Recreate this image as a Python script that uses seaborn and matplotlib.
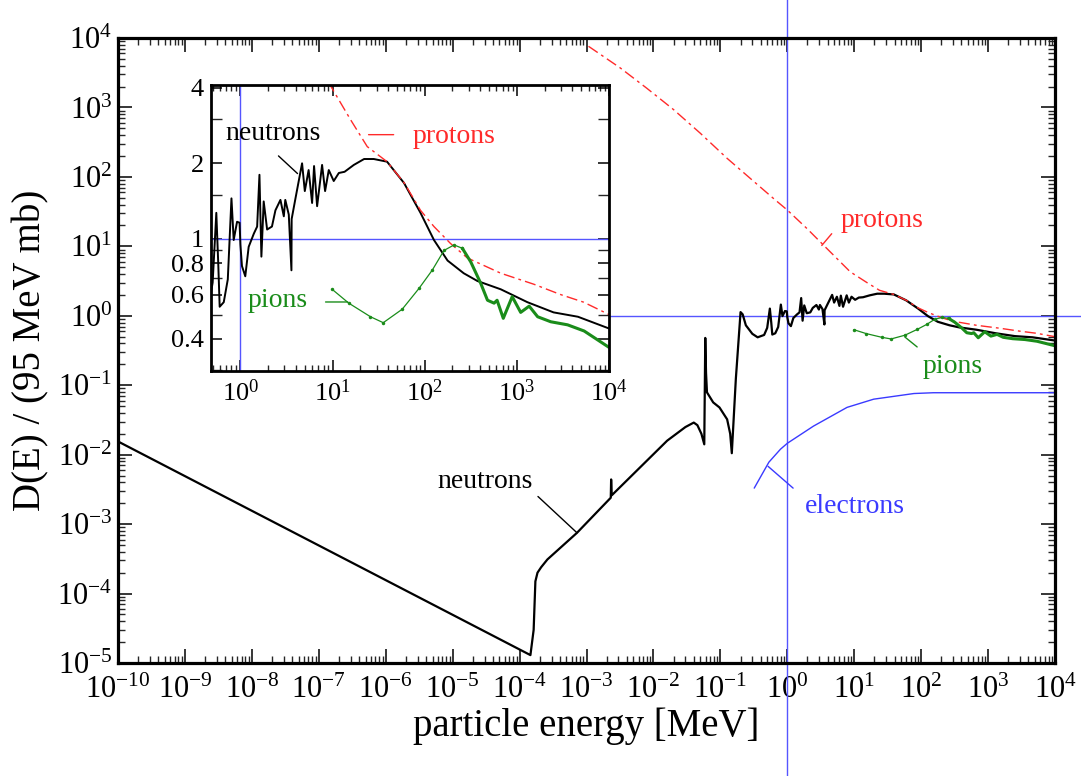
import numpy as np
import pandas as pd
import matplotlib
matplotlib.use("Agg")
import matplotlib.pyplot as plt
import matplotlib.ticker as mticker
import seaborn as sns

# displacement damage function data
neutron_E = [1e-10, 1.45e-4, 1.62e-4, 1.72e-4, 1.85e-4, 2.1e-4, 2.6e-4, 7.2e-4, 2.3e-3, 2.33e-3,
             2.38e-3, 0.016, 0.03, 0.04, 0.0453, 0.052, 0.0574, 0.0594, 0.061, 0.063, 0.078,
             0.0968, 0.126, 0.14, 0.148, 0.17, 0.20, 0.215, 0.24, 0.30, 0.36, 0.45,
             0.5, 0.548, 0.575, 0.596, 0.66, 0.73, 0.80, 0.846, 0.92, 0.98, 1.0, 1.04, 1.13,
             1.23, 1.40, 1.52, 1.61, 1.69, 1.79, 1.95, 2.2, 2.4, 2.72, 2.96, 3.07, 3.35, 3.58,
             3.6, 3.96, 4.67, 5.0, 5.5, 6.0, 6.3, 6.8, 7.7, 8.3, 9.1, 10.3, 11.7, 13.5, 17,
             22, 28, 39, 59.6, 90, 126, 177, 265, 373, 670, 1300, 2500, 4600, 1e4]
neutron_D = [0.0155, 1.3e-5, 3e-5, 1.5e-4, 2.0e-4, 2.4e-4, 3.1e-4, 7.5e-4, 2.4e-3, 4.4e-3,
             2.6e-3, 0.0159, 0.025, 0.029, 0.0266, 0.02, 0.0141, 0.48, 0.15, 0.079, 0.0566,
             0.0479, 0.0323, 0.02, 0.0105, 0.123, 1.13, 1.05, 0.73, 0.55, 0.49, 0.53,
             0.67, 1.27, 0.8, 0.537, 0.56, 0.69, 1.45, 0.99, 1.17, 1.16, 0.95, 0.78, 0.71,
             0.93, 1.05, 1.12, 1.80, 0.85, 1.41, 1.09, 1.12, 1.30, 1.43, 1.23, 1.43, 1.25, 0.75,
             1.2, 1.45, 2.0, 1.55, 1.88, 1.39, 1.95, 1.35, 1.97, 1.55, 1.88, 1.7, 1.83, 1.85, 1.97,
             2.08, 2.08, 2.03, 1.67, 1.27, 0.99, 0.82, 0.73, 0.68, 0.63, 0.56, 0.51, 0.49, 0.44]

proton_E = [1.07e-3, 3.2e-3, 7.9e-3, 0.02, 0.05, 0.126, 0.32, 0.62, 1.0, 1.97, 3.9, 8.7,
            15.7, 23.8, 39, 60, 90, 126, 190, 290, 670, 1530, 3000, 5300, 1e4]
proton_D = [7600, 3700, 1900, 930, 426, 185, 85, 49, 33.3, 18, 9.3, 4.3,
            2.98, 2.33, 2.03, 1.67, 1.3, 1.12, 0.96, 0.84, 0.73, 0.66, 0.60, 0.56, 0.50]

pion_E = [9.9, 15, 25.8, 35.5, 57, 86.9, 121, 162, 208, 256, 316, 405, 480, 566, 610,
          712, 890, 1100, 1360, 1680, 2330, 3550, 5370, 1e4]
pion_D = [0.63, 0.555, 0.49, 0.464, 0.525, 0.636, 0.752, 0.90, 0.946, 0.918, 0.81, 0.666,
          0.57, 0.555, 0.57, 0.483, 0.589, 0.51, 0.54, 0.49, 0.468, 0.455, 0.43, 0.37]

electron_E = [0.32, 0.53, 0.79, 1.0, 2.46, 7.8, 19.5, 78, 152, 1e4]
electron_D = [0.0033, 0.0078, 0.012, 0.0146, 0.0258, 0.048, 0.063, 0.076, 0.078, 0.078]

x_ticks_main = [10.0 ** k for k in range(-10, 5)]
y_ticks_main = [10.0 ** k for k in range(-5, 5)]
inset_yticks = [0.4, 0.6, 0.8, 1, 2, 4]
inset_yticklabels = ["0.4", "0.6", "0.8", "1", "2", "4"]
inset_yminor = [0.3, 0.5, 0.7, 0.9, 1.5, 3]

RED = "#ff2a2a"
GREEN = "#1a8c1a"
BLUE = "#3a3aff"
GUIDE = "#5555ff"

sns.set_style("ticks")
plt.rcParams["font.family"] = ["Liberation Serif", "DejaVu Serif"]
plt.rcParams["mathtext.fontset"] = "custom"
plt.rcParams["mathtext.rm"] = "Liberation Serif"
plt.rcParams["axes.unicode_minus"] = False
plt.rcParams["text.color"] = "black"
plt.rcParams["axes.labelcolor"] = "black"

fig = plt.figure(figsize=(10.81, 7.76), dpi=100)
ax = fig.add_axes([0.1092, 0.1456, 0.8668, 0.8054])

neutrons = pd.DataFrame({"E": neutron_E, "D": neutron_D})
protons = pd.DataFrame({"E": proton_E, "D": proton_D})
pions = pd.DataFrame({"E": pion_E, "D": pion_D})
electrons = pd.DataFrame({"E": electron_E, "D": electron_D})
split = pion_E.index(256)


def draw_curves(a, lw_n):
    sns.lineplot(data=neutrons, x="E", y="D", ax=a, color="black", lw=lw_n,
                 estimator=None, sort=False)
    sns.lineplot(data=protons, x="E", y="D", ax=a, color=RED, lw=1.0,
                 linestyle=(0, (8, 3, 2, 3)), estimator=None, sort=False)
    sns.lineplot(data=pions.iloc[:split + 1], x="E", y="D", ax=a, color=GREEN, lw=0.9,
                 marker="o", markersize=2.5, markeredgewidth=0, estimator=None, sort=False)
    sns.lineplot(data=pions.iloc[split:], x="E", y="D", ax=a, color=GREEN, lw=2.2,
                 estimator=None, sort=False)


def style_frame(a, lw, major, minor, size):
    a.set_xscale("log")
    a.set_yscale("log")
    for s in a.spines.values():
        s.set_linewidth(lw)
        s.set_color("black")
    a.tick_params(which="major", direction="in", length=major, width=1.1,
                  top=True, right=True, labelsize=size, colors="black")
    a.tick_params(which="minor", direction="in", length=minor, width=1.0,
                  top=True, right=True)
    a.set_xlabel("")
    a.set_ylabel("")


# main panel
draw_curves(ax, 1.6)
sns.lineplot(data=electrons, x="E", y="D", ax=ax, color=BLUE, lw=1.0,
             estimator=None, sort=False)
style_frame(ax, 2.3, 10, 5, 22)
ax.set_xlim(1e-10, 1e4)
ax.set_ylim(1e-5, 1e4)
ax.xaxis.set_major_locator(mticker.FixedLocator(x_ticks_main))
ax.yaxis.set_major_locator(mticker.FixedLocator(y_ticks_main))
ax.xaxis.set_minor_locator(mticker.LogLocator(base=10, subs=np.arange(2, 10), numticks=30))
ax.yaxis.set_minor_locator(mticker.LogLocator(base=10, subs=np.arange(2, 10), numticks=30))
ax.xaxis.set_major_formatter(mticker.LogFormatterSciNotation())
ax.yaxis.set_major_formatter(mticker.LogFormatterSciNotation())
ax.tick_params(axis="x", which="major", pad=9)
ax.tick_params(axis="y", which="major", pad=4)
ax.set_xlabel("particle energy [MeV]", fontsize=28, labelpad=2)
ax.set_ylabel("D(E) / (95 MeV mb)", fontsize=28, labelpad=6)

ax.axvline(1, ymin=-0.2, ymax=1.1, color=GUIDE, lw=1.0, clip_on=False, zorder=1)
ax.axhline(1, xmin=0.5, xmax=1.1, color=GUIDE, lw=1.0, clip_on=False, zorder=1)

lead = dict(arrowstyle="-", lw=1.0, shrinkA=0, shrinkB=0)
ax.annotate("", xy=(1.88e-4, 2.5e-3), xytext=(7.2e-4, 7.5e-4),
            arrowprops=dict(lead, color="black"))
ax.text(3.0e-5, 4.1e-3, "neutrons", fontsize=20, color="black", ha="center", va="center")
ax.annotate("", xy=(3.27, 10.3), xytext=(4.6, 15.2), arrowprops=dict(lead, color=RED))
ax.text(26, 23.5, "protons", fontsize=20, color=RED, ha="center", va="center")
ax.annotate("", xy=(57, 0.495), xytext=(87, 0.356), arrowprops=dict(lead, color=GREEN))
ax.text(299, 0.189, "pions", fontsize=20, color=GREEN, ha="center", va="center")
ax.annotate("", xy=(0.515, 6.8e-3), xytext=(1.22, 3.3e-3), arrowprops=dict(lead, color=BLUE))
ax.text(10.3, 1.8e-3, "electrons", fontsize=20, color=BLUE, ha="center", va="center")

# inset panel
axin = fig.add_axes([0.1952, 0.5219, 0.3682, 0.3686])
axin.set_facecolor("white")
axin.axvline(1, color=GUIDE, lw=1.0, zorder=1)
axin.axhline(1, color=GUIDE, lw=1.0, zorder=1)
draw_curves(axin, 1.4)
style_frame(axin, 2.0, 8, 4, 19)
axin.set_xlim(0.48, 1e4)
axin.set_ylim(0.298, 4.1)
axin.xaxis.set_major_locator(mticker.FixedLocator([1, 10, 100, 1000, 10000]))
axin.xaxis.set_minor_locator(mticker.LogLocator(base=10, subs=np.arange(2, 10), numticks=30))
axin.xaxis.set_major_formatter(mticker.LogFormatterSciNotation())
axin.yaxis.set_major_locator(mticker.FixedLocator(inset_yticks))
axin.yaxis.set_major_formatter(mticker.FixedFormatter(inset_yticklabels))
axin.yaxis.set_minor_locator(mticker.FixedLocator(inset_yminor))
axin.yaxis.set_minor_formatter(mticker.NullFormatter())
axin.tick_params(axis="y", which="minor", length=8)
axin.tick_params(axis="x", which="major", pad=6)
axin.tick_params(axis="y", which="major", pad=5)

axin.annotate("", xy=(2.59, 2.14), xytext=(4.17, 1.82), arrowprops=dict(lead, color="black"))
axin.text(2.28, 2.64, "neutrons", fontsize=20, color="black", ha="center", va="center")
axin.annotate("", xy=(24.6, 2.6), xytext=(46, 2.6), arrowprops=dict(lead, color=RED))
axin.text(207, 2.55, "protons", fontsize=20, color=RED, ha="center", va="center")
axin.annotate("", xy=(8.4, 0.561), xytext=(14.6, 0.561), arrowprops=dict(lead, color=GREEN))
axin.text(2.52, 0.571, "pions", fontsize=20, color=GREEN, ha="center", va="center")

fig.savefig("out.png", dpi=100)
